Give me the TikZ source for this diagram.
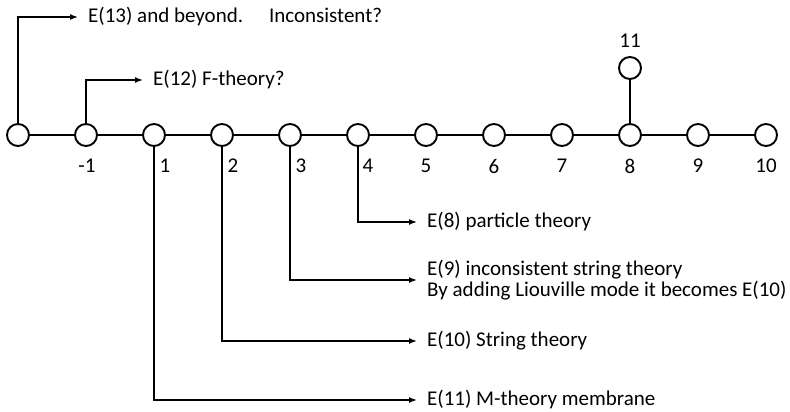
\documentclass[tikz,border=0pt]{standalone}
\usepackage{fontspec}
\setmainfont[Numbers=Lining]{Carlito}
\usepackage{tikz}
\usetikzlibrary{arrows, arrows.meta}

\begin{document}
\begin{tikzpicture}[x=1pt, y=-1pt,
	vertex/.style={circle, draw, line width=1.9pt, minimum size=22pt, inner sep=0pt, fill=white},
	lbl/.style={font=\fontsize{21}{21}\selectfont},
	note/.style={font=\fontsize{21}{21}\selectfont, anchor=west, inner xsep=10pt, inner ysep=0pt, align=left},
	link/.style={line width=1.5pt, >={Latex[length=8pt,width=6pt]}, ->}]
			
			\useasboundingbox (0,0) rectangle (790,412);
			
			\draw(18,135) node[vertex](v0){};
			\draw(86,135) node[vertex](v1){};
			\draw(154,135) node[vertex](v2){};
			\draw(222,135) node[vertex](v3){};
			\draw(290,135) node[vertex](v4){};
			\draw(358,135) node[vertex](v5){};
			\draw(426,135) node[vertex](v6){};
			\draw(494,135) node[vertex](v7){};
			\draw(562,135) node[vertex](v8){};
			\draw(630,135) node[vertex](v9){};
			\draw(698,135) node[vertex](v10){};
			\draw(766,135) node[vertex](v11){};
			\draw(630,68) node[vertex](v12){};
			
			\draw(87,166) node[lbl](l1){-1};
			\draw(165,166) node[lbl](l2){1};
			\draw(233,166) node[lbl](l3){2};
			\draw(301,166) node[lbl](l4){3};
			\draw(368,166) node[lbl](l5){4};
			\draw(426,166) node[lbl](l6){5};
			\draw(494,166) node[lbl](l7){6};
			\draw(562,166) node[lbl](l8){7};
			\draw(630,166) node[lbl](l9){8};
			\draw(698,166) node[lbl](l10){9};
			\draw(766,166) node[lbl](l11){10};
			\draw(630,41) node[lbl](l12){11};
			
			\draw[line width=1.9pt] (v0) -- (v1) -- (v2) -- (v3) -- (v4) -- (v5) -- (v6) -- (v7) -- (v8) -- (v9) -- (v10) -- (v11);
			\draw[line width=1.9pt] (v9) -- (v12);
			
			\draw(78,17) node[note](t13){E(13) and beyond.\hspace{26pt}Inconsistent?};
			\draw(143,80) node[note](t12){E(12) F-theory?};
			\draw(417,222) node[note](t8){E(8) particle theory};
			\draw(417,280) node[note](t9){E(9) inconsistent string theory\\By adding Liouville mode it becomes E(10)};
			\draw(417,341) node[note](t10){E(10) String theory};
			\draw(417,400) node[note](t11){E(11) M-theory membrane};
			
			\draw[link] (v0.north) |- (t13.west);
			\draw[link] (v1.north) |- (t12.west);
			\draw[link] (v5.south) |- (t8.west);
			\draw[link] (v4.south) |- (t9.west);
			\draw[link] (v3.south) |- (t10.west);
			\draw[link] (v2.south) |- (t11.west);
		\end{tikzpicture}
\end{document}
